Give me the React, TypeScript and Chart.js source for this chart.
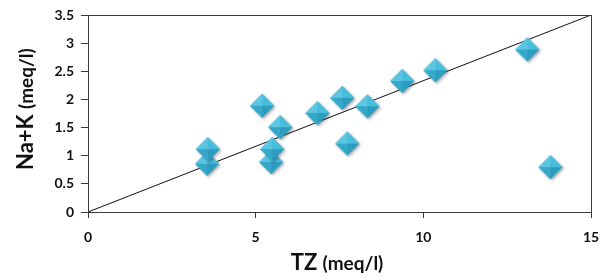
import React, { useEffect, useRef } from "react";
import { Chart, registerables } from "chart.js";

Chart.register(...registerables);

const tzValues = [3.58, 3.6, 5.22, 5.49, 5.52, 5.76, 6.87, 7.61, 7.76, 8.36, 9.4, 10.39, 13.13, 13.82];
const naKValues = [0.84, 1.1, 1.87, 0.87, 1.1, 1.49, 1.74, 2.01, 1.2, 1.86, 2.31, 2.5, 2.87, 0.78];
const lineX = [0, 15];
const lineY = [0, 3.5];
const xTicks = [0, 5, 10, 15];
const yTicks = [0, 0.5, 1, 1.5, 2, 2.5, 3, 3.5];

function makeDiamond(): HTMLCanvasElement {
  const c = document.createElement("canvas");
  const S = 30;
  c.width = S;
  c.height = S;
  const g = c.getContext("2d")!;
  const cx = 14, cy = 14, r = 12;
  g.save();
  g.shadowColor = "rgba(0,0,0,0.35)";
  g.shadowBlur = 3;
  g.shadowOffsetX = 1.5;
  g.shadowOffsetY = 1.5;
  g.beginPath();
  g.moveTo(cx, cy - r);
  g.lineTo(cx + r, cy);
  g.lineTo(cx, cy + r);
  g.lineTo(cx - r, cy);
  g.closePath();
  g.fillStyle = "#3cb0d0";
  g.fill();
  g.restore();
  const facet = (x1: number, y1: number, x2: number, y2: number, col: string) => {
    g.beginPath();
    g.moveTo(cx, cy);
    g.lineTo(x1, y1);
    g.lineTo(x2, y2);
    g.closePath();
    g.fillStyle = col;
    g.fill();
  };
  facet(cx - r, cy, cx, cy - r, "#5cc6e2");
  facet(cx, cy - r, cx + r, cy, "#48bcdb");
  facet(cx + r, cy, cx, cy + r, "#2c9cc0");
  facet(cx, cy + r, cx - r, cy, "#35a8ca");
  return c;
}

export default function App() {
  const ref = useRef<HTMLCanvasElement | null>(null);
  useEffect(() => {
    document.body.style.margin = "0";
    const diamond = makeDiamond();
    const fontFam = "Lato, 'Open Sans', sans-serif";
    const titlePlugin = {
      id: "titles",
      afterDraw(chart: any) {
        const ctx = chart.ctx;
        const a = chart.chartArea;
        ctx.save();
        ctx.strokeStyle = "#3a3a3a";
        ctx.lineWidth = 1;
        ctx.strokeRect(Math.round(a.left) + 0.5, Math.round(a.top) + 0.5, Math.round(a.right - a.left), Math.round(a.bottom - a.top));
        ctx.fillStyle = "#111";
        ctx.textBaseline = "alphabetic";
        ctx.textAlign = "left";
        const big = "bold 22px " + fontFam;
        const small = "bold 19px " + fontFam;
        ctx.font = big;
        const t1 = "TZ ";
        const w1 = ctx.measureText(t1).width;
        ctx.font = small;
        const t2 = "(meq/l)";
        const w2 = ctx.measureText(t2).width;
        const sx = 337 - (w1 + w2) / 2;
        ctx.font = big;
        ctx.fillText(t1, sx, 270);
        ctx.font = small;
        ctx.fillText(t2, sx + w1, 270);
        ctx.translate(33, 170);
        ctx.rotate(-Math.PI / 2);
        ctx.font = big;
        const t3 = "Na+K ";
        const w3 = ctx.measureText(t3).width;
        ctx.fillText(t3, 0, 0);
        ctx.font = small;
        ctx.fillText("(meq/l)", w3, 0);
        ctx.restore();
      },
    };
    const chart = new Chart(ref.current!, {
      type: "scatter",
      data: {
        datasets: [
          {
            type: "line",
            data: lineX.map((x, i) => ({ x, y: lineY[i] })),
            borderColor: "#111",
            borderWidth: 1,
            pointRadius: 0,
            fill: false,
            order: 2,
          } as any,
          {
            data: tzValues.map((x, i) => ({ x, y: naKValues[i] })),
            pointStyle: diamond,
            pointRadius: 12,
            order: 1,
          },
        ],
      },
      plugins: [titlePlugin],
      options: {
        responsive: false,
        animation: false,
        events: [],
        layout: { padding: { left: 0, right: 16, top: 15, bottom: 0 } },
        plugins: { legend: { display: false }, tooltip: { enabled: false } },
        scales: {
          x: {
            type: "linear",
            min: 0,
            max: 15,
            afterBuildTicks: (s: any) => {
              s.ticks = xTicks.map((v) => ({ value: v }));
            },
            afterFit: (s: any) => {
              s.height = 68;
              s.paddingLeft = 0;
              s.paddingRight = 0;
            },
            grid: { display: true, drawOnChartArea: false, tickLength: 6, color: "#3a3a3a" },
            border: { display: true, color: "#3a3a3a" },
            ticks: { color: "#111", font: { family: fontFam, weight: "bold", size: 14 }, padding: 11, maxRotation: 0, callback: (v: any) => String(v) },
          },
          y: {
            type: "linear",
            min: 0,
            max: 3.5,
            afterBuildTicks: (s: any) => {
              s.ticks = yTicks.map((v) => ({ value: v }));
            },
            afterFit: (s: any) => {
              s.width = 88;
              s.paddingTop = 0;
              s.paddingBottom = 0;
            },
            grid: { display: true, drawOnChartArea: false, tickLength: 7, color: "#3a3a3a" },
            border: { display: true, color: "#3a3a3a" },
            ticks: { color: "#111", font: { family: fontFam, weight: "bold", size: 14 }, padding: 7, callback: (v: any) => String(v) },
          },
        },
      },
    } as any);
    return () => chart.destroy();
  }, []);
  return (
    <div style={{ width: 607, height: 280, background: "#fff" }}>
      <canvas ref={ref} width={607} height={280} />
    </div>
  );
}
